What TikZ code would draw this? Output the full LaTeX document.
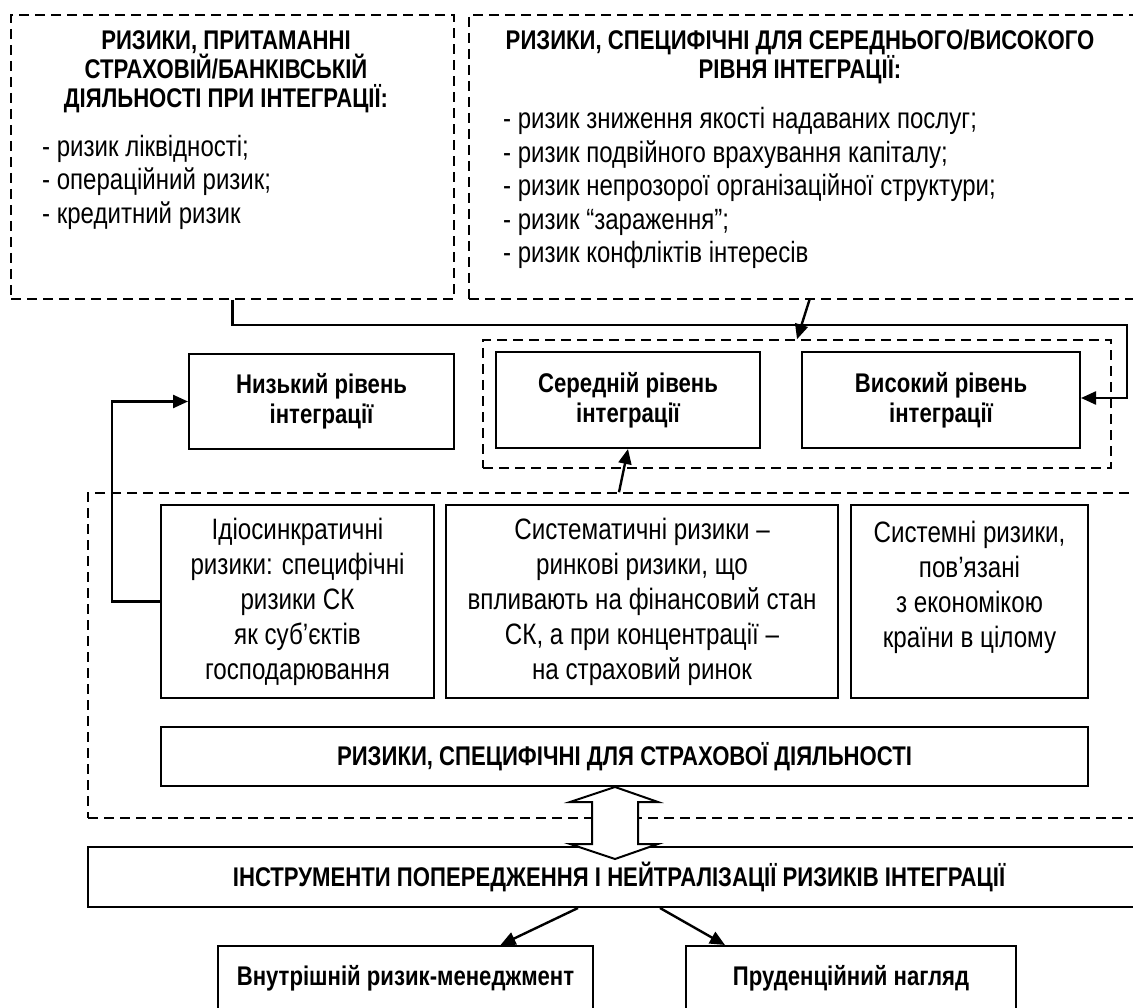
\documentclass[tikz,border=0pt]{standalone}
\usepackage{fontspec}
\setmainfont[FakeStretch=0.82]{Liberation Sans}
\usetikzlibrary{positioning,calc,arrows.meta}

\tikzset{
    dashbox/.style={draw, line width=1.5pt, dash pattern=on 10pt off 6pt, inner sep=0pt},
    solidbox/.style={draw, line width=2pt, inner sep=0pt, align=center},
    boxsize/.style 2 args={minimum width=#1pt, minimum height=#2pt},
    conn/.style={line width=2.4pt, -{Triangle[length=15pt,width=13pt]}},
    titletext/.style={font=\bfseries\fontsize{27}{29}\selectfont, align=center, inner sep=0pt},
    listtext/.style={font=\fontsize{29.3}{33.5}\selectfont, align=left, inner sep=0pt},
    leveltext/.style={font=\bfseries\fontsize{27}{30}\selectfont},
    bodytext/.style={font=\fontsize{29.5}{35}\selectfont},
}

\begin{document}
\begin{tikzpicture}[x=1pt, y=-1pt]
    \useasboundingbox (0,0) rectangle (1133,1008);

    % top dashed boxes
    \node[dashbox, boxsize={443}{284}] at (232.5,157) (bankbox) {};
    \node[dashbox, boxsize={681}{284}] at (809.5,157) (specbox) {};

    \node[titletext] at (226,72) (banktitle) {РИЗИКИ, ПРИТАМАННІ\\
        СТРАХОВІЙ/БАНКІВСЬКІЙ\\ ДІЯЛЬНОСТІ ПРИ ІНТЕГРАЦІЇ:};
    \node[listtext, anchor=west] at (42,182) (banklist) {- ризик ліквідності;\\
        - операційний ризик;\\ - кредитний ризик};

    \node[titletext] at (800,57) (spectitle) {РИЗИКИ, СПЕЦИФІЧНІ ДЛЯ СЕРЕДНЬОГО/ВИСОКОГО\\
        РІВНЯ ІНТЕГРАЦІЇ:};
    \node[listtext, anchor=west] at (503,188) (speclist) {- ризик зниження якості надаваних послуг;\\
        - ризик подвійного врахування капіталу;\\
        - ризик непрозорої організаційної структури;\\
        - ризик “зараження”;\\
        - ризик конфліктів інтересів};

    % levels of integration
    \node[dashbox, boxsize={628}{128}] at (797,404) (levelgroup) {};
    \node[solidbox, boxsize={265}{95}, leveltext] at (321.5,401.5) (lowbox) {Низький рівень\\ інтеграції};
    \node[solidbox, boxsize={264}{96}, leveltext] at (628,400) (midbox) {Середній рівень\\ інтеграції};
    \node[solidbox, boxsize={278}{96}, leveltext] at (941,400) (highbox) {Високий рівень\\ інтеграції};

    % kinds of risks
    \node[dashbox, boxsize={1062}{325}] at (619,655.5) (riskgroup) {};
    \node[solidbox, boxsize={273}{193}, bodytext] at (297.5,601.5) (idiobox) {Ідіосинкратичні\\
        ризики: специфічні\\ ризики СК\\ як суб’єктів\\ господарювання};
    \node[solidbox, boxsize={392}{193}, bodytext] at (642,601.5) (sysmbox) {Систематичні ризики –\\
        ринкові ризики, що\\ впливають на фінансовий стан\\ СК, а при концентрації –\\ на страховий ринок};
    \node[solidbox, boxsize={237}{193}, bodytext] at (969.5,601.5) (systbox) {Системні ризики,\\
        пов’язані\\ з економікою\\ країни в цілому\\ \mbox{}};
    \node[solidbox, boxsize={927}{59}, leveltext] at (624.5,756.5) (insbox) {РИЗИКИ, СПЕЦИФІЧНІ ДЛЯ СТРАХОВОЇ ДІЯЛЬНОСТІ};

    % tools
    \node[solidbox, boxsize={1062}{60}, leveltext] at (619,877) (toolbox) {ІНСТРУМЕНТИ ПОПЕРЕДЖЕННЯ І НЕЙТРАЛІЗАЦІЇ РИЗИКІВ ІНТЕГРАЦІЇ};
    \node[solidbox, boxsize={375}{64}, leveltext] at (405.5,978) (ownbox) {Внутрішній ризик-менеджмент};
    \node[solidbox, boxsize={330}{64}, leveltext] at (851,978) (supbox) {Пруденційний нагляд};

    % connectors
    \coordinate (bend) at (1127,325);
    \draw[conn] (bankbox.south) |- (bend) |- ([yshift=2pt]highbox.east);
    \draw[conn] (specbox.south) -- (levelgroup.north);
    \draw[conn] (riskgroup.north) -- (midbox.south);
    \draw[conn] (idiobox.west) -- ++(-48,0) |- (lowbox.west);
    \draw[conn] ($(toolbox.south)+(-41,0)$) -- ($(ownbox.north)+(95,0)$);
    \draw[conn] ($(toolbox.south)+(41,0)$) -- ($(supbox.north west)+(40,0)$);

    % two-way arrow between the risks and the tools
    \coordinate (dtop) at (615,787);
    \draw[line width=2pt, fill=white] (dtop) -- ++(43,15) -- ++(-20,0) -- ++(0,42) -- ++(20,0)
        -- ++(-43,15) -- ++(-45,-15) -- ++(22,0) -- ++(0,-42) -- ++(-22,0) -- cycle;
\end{tikzpicture}
\end{document}
